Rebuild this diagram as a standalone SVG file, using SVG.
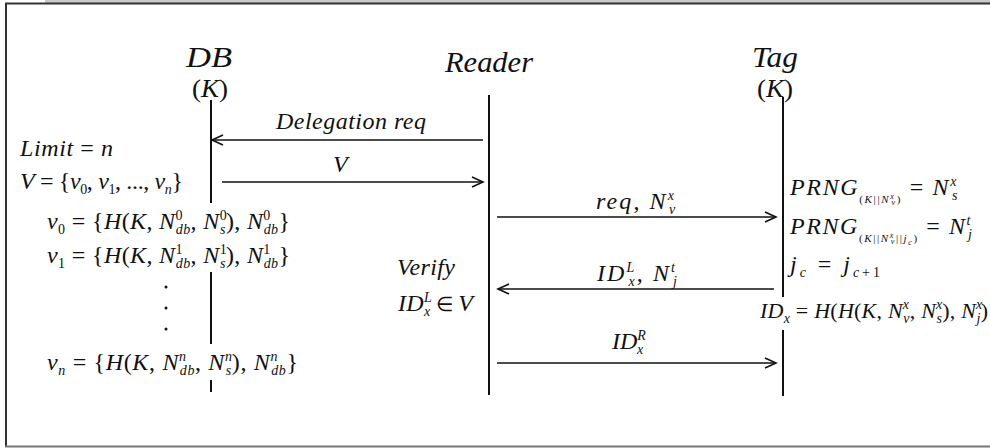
<svg xmlns="http://www.w3.org/2000/svg" width="990" height="448" viewBox="0 0 990 448">
<defs>
<style>
.m{font-family:"Liberation Serif","Times New Roman",serif;font-style:italic;font-size:24px;fill:#111}
.h{font-family:"Liberation Serif","Times New Roman",serif;font-style:italic;font-size:30px;fill:#111}
.r{font-style:normal}
.s{font-size:14px}
.t{font-size:11px}
.u{font-size:8px}
.life{stroke:#111;stroke-width:2;fill:none}
.msg{stroke:#111;stroke-width:1.6;fill:none}
</style>
<marker id="arr" markerWidth="14" markerHeight="12" refX="12" refY="6" orient="auto" markerUnits="userSpaceOnUse">
<path d="M1,1 L12,6 L1,11" fill="none" stroke="#111" stroke-width="1.6"/>
</marker>
</defs>
<rect x="0" y="0" width="990" height="448" fill="#fff"/>
<line x1="45" y1="1.5" x2="990" y2="1.5" stroke="#c8c8c8" stroke-width="3"/>
<path d="M990,3.5 H6 V446" fill="none" stroke="#333" stroke-width="2"/>
<line x1="5" y1="446.5" x2="990" y2="446.5" stroke="#777" stroke-width="2"/>

<g id="node-db">
<text class="h" x="186" y="67" textLength="46" lengthAdjust="spacingAndGlyphs">DB</text>
<text class="m" x="192" y="97" textLength="36" lengthAdjust="spacingAndGlyphs" style="font-size:25px"><tspan class="r">(</tspan>K<tspan class="r">)</tspan></text>
<line class="life" x1="211" y1="100" x2="211" y2="203"/>
<line class="life" x1="211" y1="272" x2="211" y2="344"/>
<line class="life" x1="211" y1="380" x2="211" y2="392"/>
</g>
<g id="node-reader">
<text class="h" x="445" y="72" textLength="88" lengthAdjust="spacingAndGlyphs">Reader</text>
<line class="life" x1="489" y1="95" x2="489" y2="395"/>
</g>
<g id="node-tag">
<text class="h" x="752" y="67" textLength="46" lengthAdjust="spacingAndGlyphs">Tag</text>
<text class="m" x="757" y="97" textLength="36" lengthAdjust="spacingAndGlyphs" style="font-size:25px"><tspan class="r">(</tspan>K<tspan class="r">)</tspan></text>
<line class="life" x1="783" y1="97" x2="783" y2="297"/>
<line class="life" x1="783" y1="330" x2="783" y2="396"/>
</g>

<g id="connectors">
<line class="msg" x1="483" y1="140" x2="212" y2="140" marker-end="url(#arr)"/>
<line class="msg" x1="222" y1="182" x2="483" y2="182" marker-end="url(#arr)"/>
<line class="msg" x1="497" y1="217" x2="776" y2="217" marker-end="url(#arr)"/>
<line class="msg" x1="774" y1="289" x2="498" y2="289" marker-end="url(#arr)"/>
<line class="msg" x1="497" y1="363" x2="776" y2="363" marker-end="url(#arr)"/>
</g>

<g id="labels">
<text class="m" x="276" y="129" textLength="150" lengthAdjust="spacing">Delegation req</text>
<text class="m" x="333" y="172">V</text>
<text class="m" x="596" y="209" textLength="80" lengthAdjust="spacing">req<tspan class="r">, </tspan>N<tspan class="s" dy="-9">x</tspan><tspan class="s" dx="-7" dy="14">v</tspan></text>
<text class="m" x="597" y="281" textLength="80" lengthAdjust="spacing">ID<tspan class="s" dy="-9">L</tspan><tspan class="s" dx="-8" dy="14">x</tspan><tspan class="r" dy="-5">, </tspan>N<tspan class="s" dy="-9">t</tspan><tspan class="s" dx="-4" dy="14">j</tspan></text>
<text class="m" x="612" y="349">ID<tspan class="s" dy="-9">R</tspan><tspan class="s" dx="-9" dy="14">x</tspan></text>
</g>

<g id="db-notes">
<text class="m" x="20" y="156" textLength="93" lengthAdjust="spacing">Limit<tspan class="r"> = </tspan>n</text>
<text class="m" x="20" y="189" textLength="163" lengthAdjust="spacing">V<tspan class="r"> = {</tspan>v<tspan class="s r" dy="5">0</tspan><tspan class="r" dy="-5">, </tspan>v<tspan class="s r" dy="5">1</tspan><tspan class="r" dy="-5">, ..., </tspan>v<tspan class="s" dy="5">n</tspan><tspan class="r" dy="-5">}</tspan></text>
<text class="m" x="47" y="229" textLength="243" lengthAdjust="spacing">v<tspan class="s r" dy="5">0</tspan><tspan class="r" dy="-5"> = {</tspan>H<tspan class="r">(</tspan>K<tspan class="r">, </tspan>N<tspan class="s r" dy="-9">0</tspan><tspan class="s" dx="-7" dy="14">db</tspan><tspan class="r" dy="-5">, </tspan>N<tspan class="s r" dy="-9">0</tspan><tspan class="s" dx="-7" dy="14">s</tspan><tspan class="r" dy="-5">), </tspan>N<tspan class="s r" dy="-9">0</tspan><tspan class="s" dx="-7" dy="14">db</tspan><tspan class="r" dy="-5">}</tspan></text>
<text class="m" x="47" y="263" textLength="243" lengthAdjust="spacing">v<tspan class="s r" dy="5">1</tspan><tspan class="r" dy="-5"> = {</tspan>H<tspan class="r">(</tspan>K<tspan class="r">, </tspan>N<tspan class="s r" dy="-9">1</tspan><tspan class="s" dx="-7" dy="14">db</tspan><tspan class="r" dy="-5">, </tspan>N<tspan class="s r" dy="-9">1</tspan><tspan class="s" dx="-7" dy="14">s</tspan><tspan class="r" dy="-5">), </tspan>N<tspan class="s r" dy="-9">1</tspan><tspan class="s" dx="-7" dy="14">db</tspan><tspan class="r" dy="-5">}</tspan></text>
<circle cx="166" cy="287" r="1.5" fill="#111"/>
<circle cx="166" cy="308" r="1.5" fill="#111"/>
<circle cx="166" cy="329" r="1.5" fill="#111"/>
<text class="m" x="47" y="370" textLength="251" lengthAdjust="spacing">v<tspan class="s" dy="5">n</tspan><tspan class="r" dy="-5"> = {</tspan>H<tspan class="r">(</tspan>K<tspan class="r">, </tspan>N<tspan class="s" dy="-9">n</tspan><tspan class="s" dx="-7" dy="14">db</tspan><tspan class="r" dy="-5">, </tspan>N<tspan class="s" dy="-9">n</tspan><tspan class="s" dx="-7" dy="14">s</tspan><tspan class="r" dy="-5">), </tspan>N<tspan class="s" dy="-9">n</tspan><tspan class="s" dx="-7" dy="14">db</tspan><tspan class="r" dy="-5">}</tspan></text>
</g>

<g id="reader-notes">
<text class="m" x="397" y="275" textLength="58" lengthAdjust="spacing">Verify</text>
<text class="m" x="398" y="311" textLength="75" lengthAdjust="spacing">ID<tspan class="s" dy="-9">L</tspan><tspan class="s" dx="-8" dy="14">x</tspan><tspan class="r" dy="-5" style="font-size:20px"> ∈ </tspan>V</text>
</g>

<g id="tag-notes">
<text class="m" x="790" y="195" textLength="168" lengthAdjust="spacing">PRNG<tspan class="t r" dy="8">(</tspan><tspan class="t">K</tspan><tspan class="t r">||</tspan><tspan class="t">N</tspan><tspan class="u" dy="-4">x</tspan><tspan class="u" dx="-4" dy="6">v</tspan><tspan class="t r" dy="-2">)</tspan><tspan class="r" dy="-8"> = </tspan>N<tspan class="s" dy="-9">x</tspan><tspan class="s" dx="-6" dy="14">s</tspan></text>
<text class="m" x="790" y="234" textLength="182" lengthAdjust="spacing">PRNG<tspan class="t r" dy="8">(</tspan><tspan class="t">K</tspan><tspan class="t r">||</tspan><tspan class="t">N</tspan><tspan class="u" dy="-4">x</tspan><tspan class="u" dx="-4" dy="6">v</tspan><tspan class="t r" dy="-2">||</tspan><tspan class="t">j</tspan><tspan class="u" dy="3">c</tspan><tspan class="t r" dy="-3">)</tspan><tspan class="r" dy="-8"> = </tspan>N<tspan class="s" dy="-9">t</tspan><tspan class="s" dx="-4" dy="14">j</tspan></text>
<text class="m" x="790" y="272" textLength="90" lengthAdjust="spacing">j<tspan class="s" dy="5">c</tspan><tspan class="r" dy="-5"> = </tspan>j<tspan class="s" dy="5">c</tspan><tspan class="s r">+1</tspan></text>
<text class="m" x="760" y="318" textLength="228" lengthAdjust="spacing" style="font-size:22px">ID<tspan class="s" dy="5">x</tspan><tspan class="r" dy="-5"> = </tspan>H<tspan class="r">(</tspan>H<tspan class="r">(</tspan>K<tspan class="r">, </tspan>N<tspan class="s" dy="-9">x</tspan><tspan class="s" dx="-6" dy="14">v</tspan><tspan class="r" dy="-5">, </tspan>N<tspan class="s" dy="-9">x</tspan><tspan class="s" dx="-6" dy="14">s</tspan><tspan class="r" dy="-5">), </tspan>N<tspan class="s" dy="-9">x</tspan><tspan class="s" dx="-6" dy="14">j</tspan><tspan class="r" dy="-5">)</tspan></text>
</g>
</svg>
